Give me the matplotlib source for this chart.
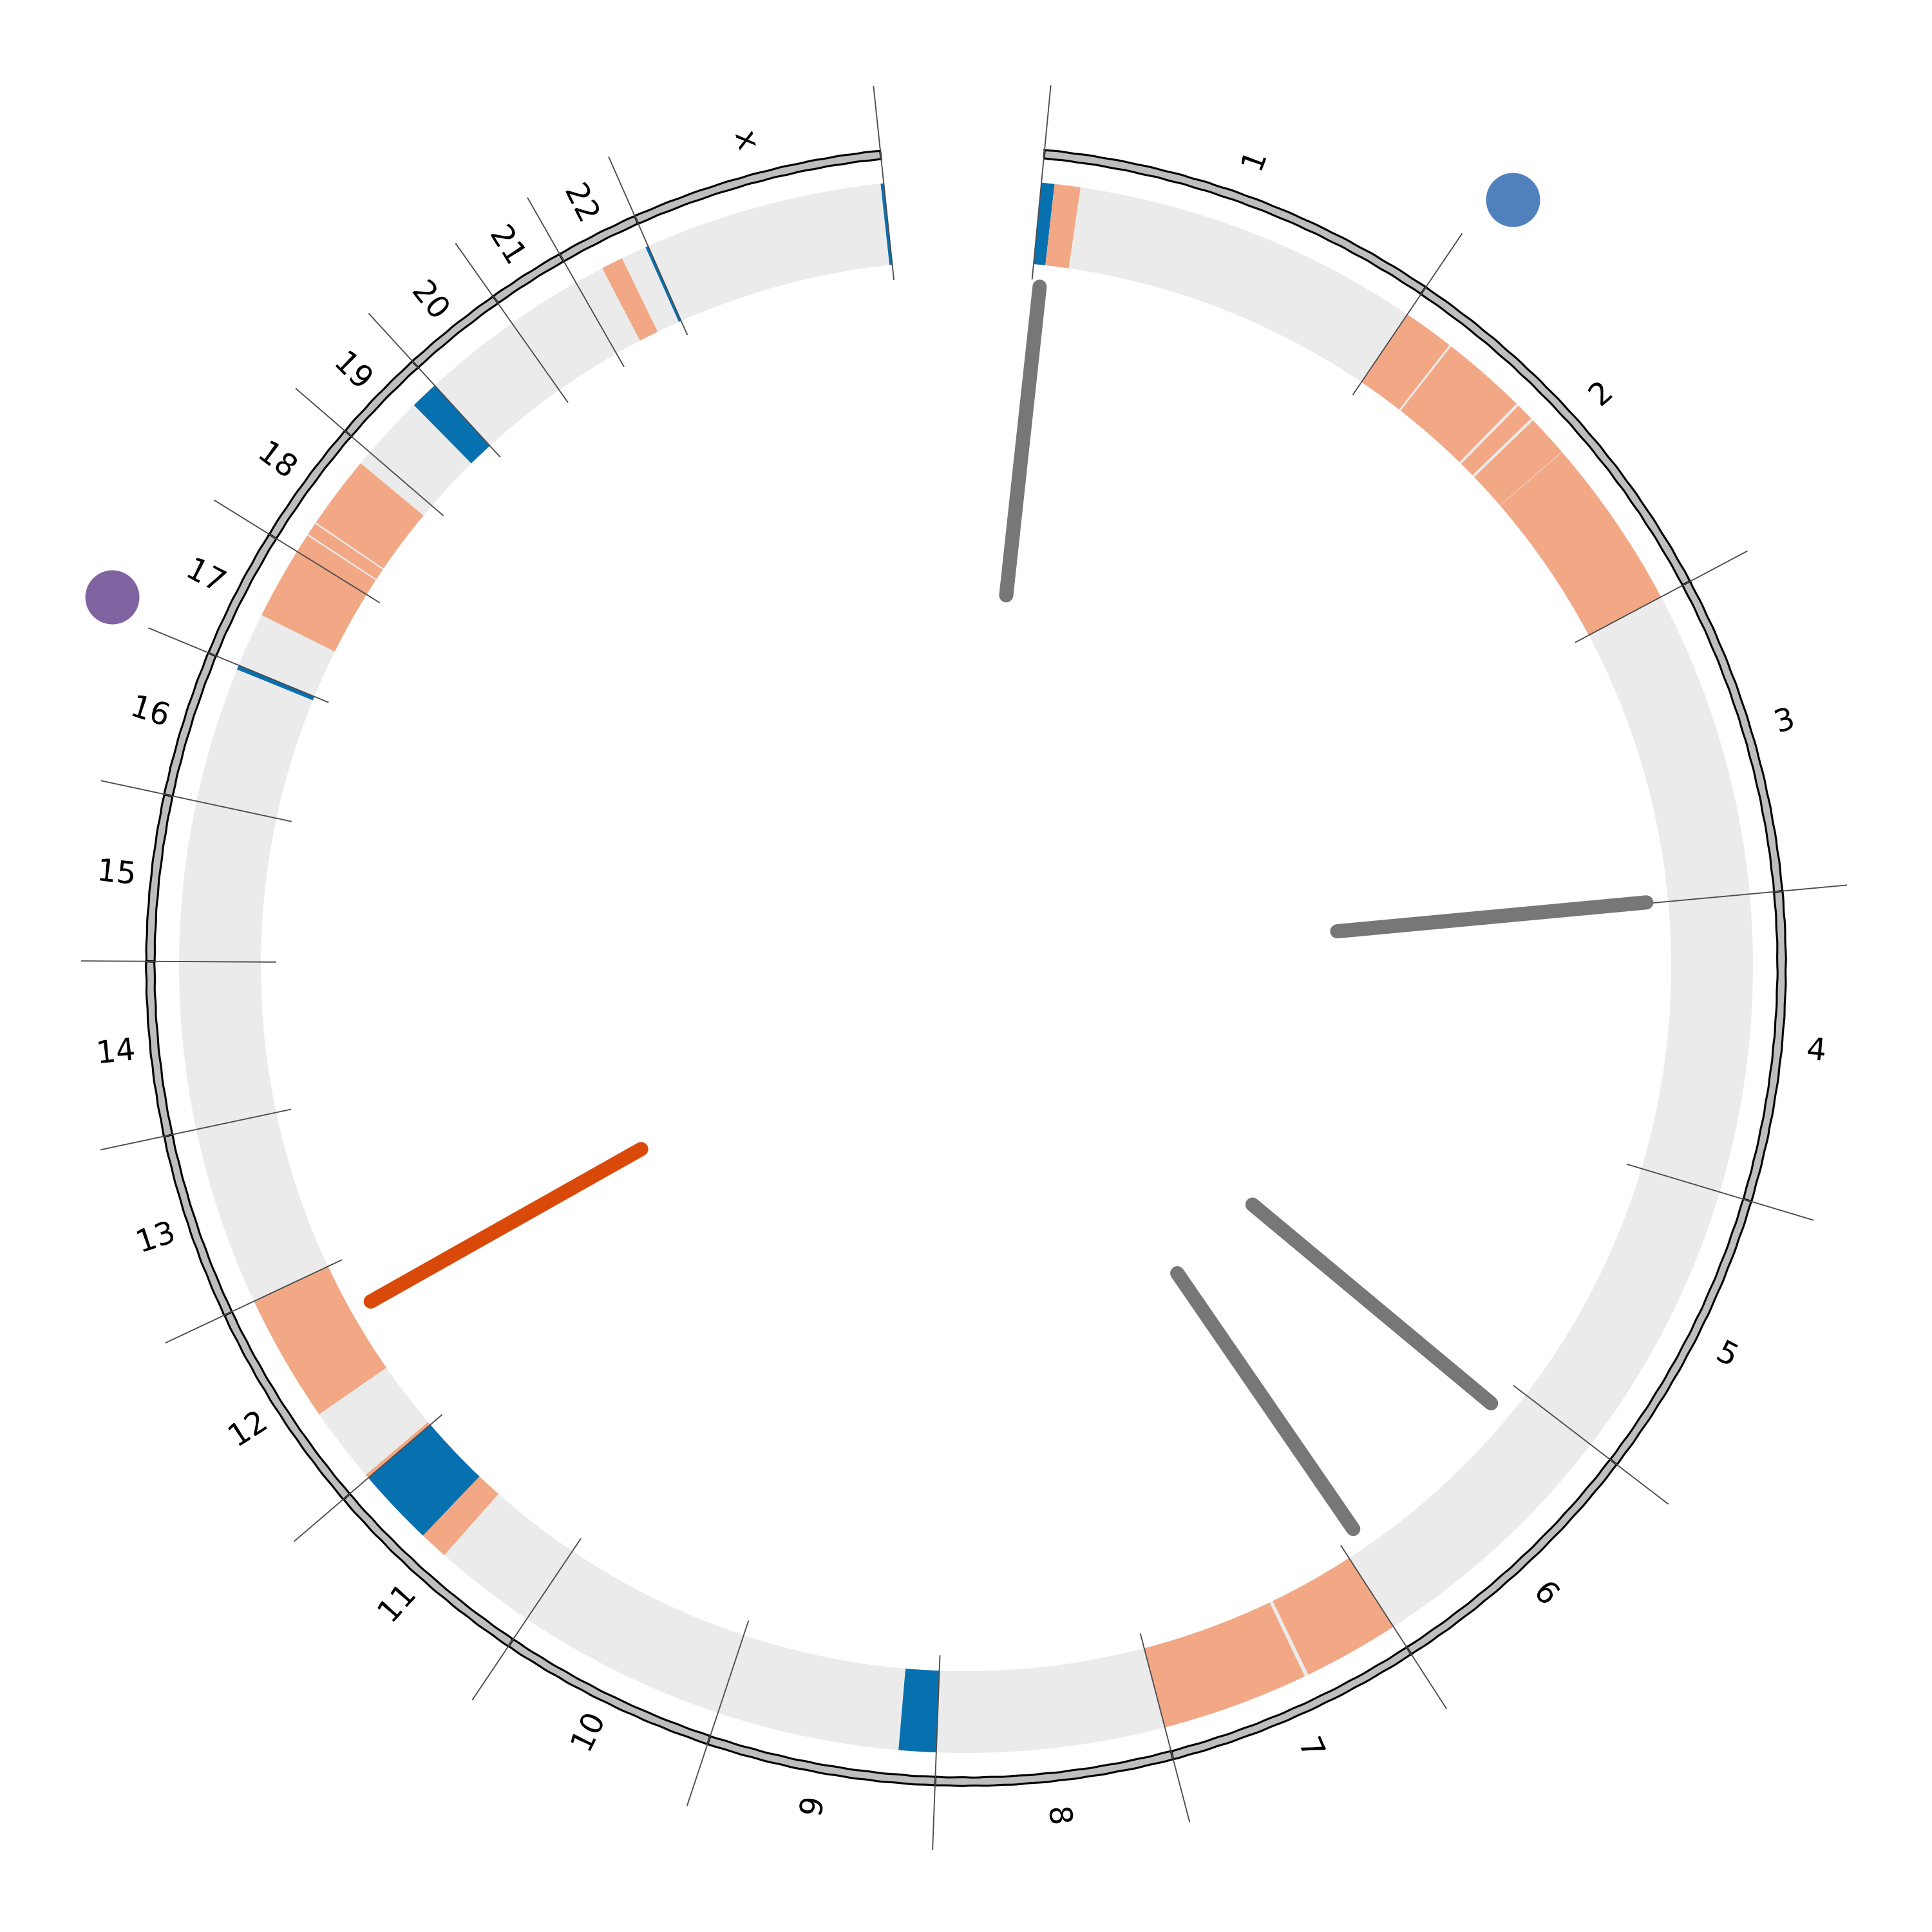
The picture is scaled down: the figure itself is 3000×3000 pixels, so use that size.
import numpy as np
import matplotlib
matplotlib.use("Agg")
import matplotlib.pyplot as plt
from matplotlib import patheffects

# ---------------- data ----------------
chrom_names = ['1', '2', '3', '4', '5', '6', '7', '8', '9', '10', '11', '12',
               '13', '14', '15', '16', '17', '18', '19', '20', '21', '22', 'x']
chrom_len_mb = [249.25, 243.2, 198.0, 191.15, 180.9, 171.1, 159.1, 146.4,
                141.2, 135.5, 135.0, 133.85, 115.2, 107.3, 102.5, 90.35,
                81.2, 78.1, 59.1, 63.0, 48.1, 51.3, 155.3]

# copy-number segments (Mb within chromosome)
band_chrom = ['1', '1', '2', '2', '2', '2', '2', '7', '7', '9', '11', '11',
              '12', '12', '16', '17', '18', '18', '18', '19', '22', '22', 'x']
band_start = [0.0, 8.4, 0.0, 34.3, 91.4, 104.5, 131.8, 0.0, 64.5, 0.0, 66.2, 84.5,
              0.0, 51.0, 87.5, 35.0, 0.0, 13.0, 22.0, 41.0, 19.0, 49.5, 153.3]
band_end = [8.4, 25.0, 33.0, 89.6, 102.7, 131.5, 243.2, 62.0, 159.1, 24.0, 84.5, 135.0,
            2.5, 133.85, 90.35, 81.2, 12.0, 21.0, 69.0, 59.1, 33.0, 51.3, 155.3]
band_kind = ['loss', 'gain', 'gain', 'gain', 'gain', 'gain', 'gain', 'gain', 'gain',
             'loss', 'gain', 'loss', 'gain', 'gain', 'loss', 'gain', 'gain', 'gain',
             'gain', 'loss', 'gain', 'loss', 'loss']

# radial links
link_chrom = ['1', '3', '6', '6', '12']
link_pos = [6.0, 197.2, 20.3, 157.0, 97.3]
link_kind = ['other', 'other', 'other', 'other', 'highlight']

# markers outside the ring
dot_chrom = ['2', '17']
dot_pos = [12.1, 8.0]
dot_level = [1462, 1445]
dot_kind = ['a', 'b']

# ---------------- styles ----------------
kind_color = {'gain': '#f2a885', 'loss': '#0771b0'}
link_color = {'other': '#777777', 'highlight': '#d94a0a'}
dot_color = {'a': '#5081bd', 'b': '#8064a2'}

START_DEG, END_DEG = 5.5, 354.0
R_MAX = 1500
R_BAND = (1095, 1222)
R_RING = (1260, 1273)
R_SEP = (1072, 1373)
R_LABEL = 1327
R_LINK = (579, 1061)

total = sum(chrom_len_mb)
deg_per_mb = (END_DEG - START_DEG) / total
offsets = {}
acc = 0.0
for n, L in zip(chrom_names, chrom_len_mb):
    offsets[n] = acc
    acc += L


def theta(ch, pos):
    return np.deg2rad(START_DEG + (offsets[ch] + pos) * deg_per_mb)


class Sketch(patheffects.AbstractPathEffect):
    def __init__(self, scale, length, randomness):
        super().__init__()
        self.p = (scale, length, randomness)

    def draw_path(self, renderer, gc, tpath, affine, rgbFace=None):
        gc0 = renderer.new_gc()
        gc0.copy_properties(gc)
        gc0.set_sketch_params(*self.p)
        renderer.draw_path(gc0, tpath, affine, rgbFace)
        gc0.restore()


fig = plt.figure(figsize=(10, 10), dpi=300)
ax = fig.add_axes([0, 0, 1, 1], projection='polar')
ax.set_theta_zero_location('N')
ax.set_theta_direction(-1)
ax.set_ylim(0, R_MAX)
ax.set_axis_off()

# background band per chromosome
for n, L in zip(chrom_names, chrom_len_mb):
    t0, t1 = theta(n, 0), theta(n, L)
    ax.bar(t0, R_BAND[1] - R_BAND[0], width=t1 - t0, bottom=R_BAND[0],
           align='edge', color='#ebebeb', linewidth=0, zorder=1)

# segments
for c, s, e, k in zip(band_chrom, band_start, band_end, band_kind):
    t0, t1 = theta(c, s), theta(c, e)
    ax.bar(t0, R_BAND[1] - R_BAND[0], width=t1 - t0, bottom=R_BAND[0],
           align='edge', color=kind_color[k], linewidth=0, zorder=2)

# outer ideogram ring (slightly sketchy)
for n, L in zip(chrom_names, chrom_len_mb):
    t0, t1 = theta(n, 0), theta(n, L)
    bars = ax.bar(t0, R_RING[1] - R_RING[0], width=t1 - t0, bottom=R_RING[0],
                  align='edge', color='#bebebe', edgecolor='black',
                  linewidth=0.75, zorder=3)
    for b in bars:
        b.set_sketch_params(0.3, 50, 2)

# separators
sep_thetas = [theta(n, 0) for n in chrom_names] + [theta(chrom_names[-1], chrom_len_mb[-1])]
for t in sep_thetas:
    ax.plot([t, t], list(R_SEP), color='#4d4d4d', linewidth=0.45, zorder=4)

# labels
for n, L in zip(chrom_names, chrom_len_mb):
    t = theta(n, L / 2)
    deg = np.rad2deg(t)
    rot = 90 - deg if deg <= 180 else 270 - deg
    ax.text(t, R_LABEL, n, rotation=rot, rotation_mode='anchor',
            ha='center', va='center', fontsize=11.5, color='black',
            family='DejaVu Sans', clip_on=False,
            path_effects=[Sketch(0.2, 40, 2)], zorder=5)

# links
for c, p, k in zip(link_chrom, link_pos, link_kind):
    t = theta(c, p)
    ax.plot([t, t], list(R_LINK), color=link_color[k], linewidth=5.3,
            solid_capstyle='round', zorder=5)

# dots
for c, p, lv, k in zip(dot_chrom, dot_pos, dot_level, dot_kind):
    ax.scatter([theta(c, p)], [lv], s=406, color=dot_color[k],
               linewidths=0, zorder=6, clip_on=False)

fig.savefig('out.png', dpi=300, facecolor='white')
